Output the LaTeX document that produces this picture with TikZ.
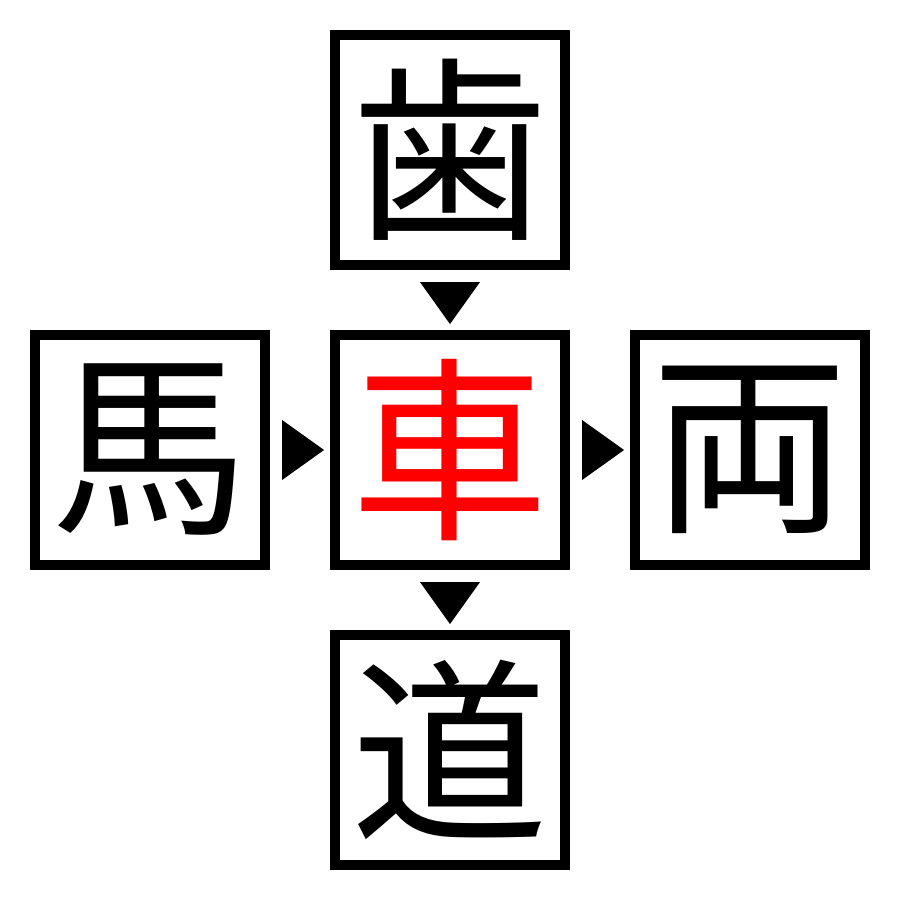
\documentclass[tikz,border=0pt]{standalone}
\usepackage{fontspec}
\newfontfamily\cjk{Noto Sans CJK JP}
\usetikzlibrary{calc}
\begin{document}
\begin{tikzpicture}[x=0.01cm,y=-0.01cm,
  kbox/.style={draw=black,line width=1mm,minimum size=2.3cm,inner sep=0pt,
    font=\cjk\fontsize{56pt}{56pt}\selectfont},
  tri/.style={fill=black}]
\useasboundingbox (0,0) rectangle (900,900);
\node[kbox] (top) at (450,150) {歯};
\node[kbox] (left) at (150,450) {馬};
\node[kbox,text=red] (mid) at (450,450) {車};
\node[kbox] (right) at (750,450) {両};
\node[kbox] (bot) at (450,750) {道};
% arrowheads between boxes (anchors sit on the outer edge of the frame)
\fill[tri] ($(top.south)+(-30,12)$) -- ++(60,0) -- ($(top.south)+(0,54)$) -- cycle;
\fill[tri] ($(mid.south)+(-30,12)$) -- ++(60,0) -- ($(mid.south)+(0,54)$) -- cycle;
\fill[tri] ($(left.east)+(12,-30)$) -- ++(0,60) -- ($(left.east)+(54,0)$) -- cycle;
\fill[tri] ($(mid.east)+(12,-30)$) -- ++(0,60) -- ($(mid.east)+(54,0)$) -- cycle;
\end{tikzpicture}
\end{document}
